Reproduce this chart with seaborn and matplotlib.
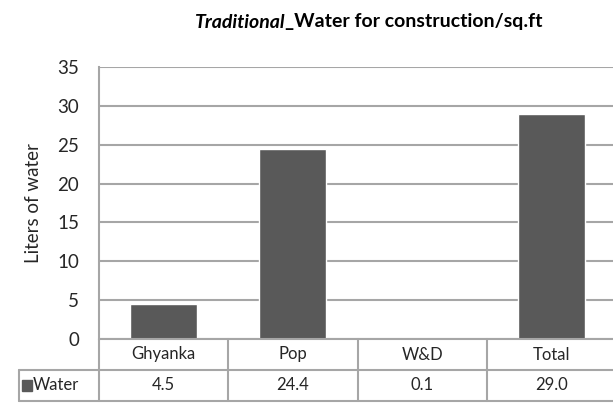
import matplotlib
matplotlib.use("Agg")
import matplotlib.pyplot as plt
import seaborn as sns
import pandas as pd

categories = ["Ghyanka", "Pop", "W&D", "Total"]
water = [4.5, 24.4, 0.1, 29.0]
yticks = [0, 5, 10, 15, 20, 25, 30, 35]
series_name = "Water"

df = pd.DataFrame({"category": categories, "water": water})

sns.set_theme(style="white")
plt.rcParams["font.family"] = ["Lato", "DejaVu Sans"]

bar_color = "#595959"
line_color = "#a6a6a6"
text_color = "#262626"

fig = plt.figure(figsize=(6.13, 4.04), dpi=100)
# plot area (right edge runs just past the figure, like the reference crop)
ax = fig.add_axes([98.5 / 613, 1 - 339 / 404, 518 / 613, 272 / 404])

sns.barplot(data=df, x="category", y="water", color=bar_color, width=0.52,
            saturation=1, ax=ax)

ax.set_xlim(-0.5, 3.5)
ax.set_ylim(0, 35)
ax.set_yticks(yticks)
ax.set_yticklabels([str(t) for t in yticks], fontsize=13.5, color=text_color)
ax.tick_params(axis="y", length=0, pad=14)
ax.set_xticks([])
ax.set_xlabel("")
ax.set_ylabel("Liters of water", fontsize=13.5, color=text_color, labelpad=11)
ax.yaxis.grid(True, color=line_color, linewidth=1.5)
ax.set_axisbelow(True)
for side in ["top", "right", "bottom"]:
    ax.spines[side].set_visible(False)
ax.spines["left"].set_color(line_color)
ax.spines["left"].set_linewidth(1.5)

# data table under the plot
tr = ax.get_xaxis_transform()
row_h = 31 / 272
left_edge = -0.5 - (98.5 - 19.5) / 129.5
kw = dict(color=line_color, linewidth=1.5, clip_on=False, transform=tr)
ax.plot([-0.5, 3.5], [0, 0], **kw)
ax.plot([left_edge, 3.5], [-row_h, -row_h], **kw)
ax.plot([left_edge, 3.5], [-2 * row_h, -2 * row_h], **kw)
ax.plot([left_edge, left_edge], [-row_h, -2 * row_h], **kw)
for i in range(len(categories) + 1):
    ax.plot([i - 0.5, i - 0.5], [0, -2 * row_h], **kw)

for i, (cat, val) in enumerate(zip(categories, water)):
    ax.text(i, -row_h / 2, cat, transform=tr, ha="center", va="center",
            fontsize=12, color=text_color, clip_on=False)
    ax.text(i, -1.5 * row_h, f"{val:.1f}", transform=tr, ha="center",
            va="center", fontsize=12, color=text_color, clip_on=False)

# legend key + series name in the table's first column
ax.add_patch(plt.Rectangle((left_edge + 0.02, -1.5 * row_h - 0.02), 0.077, 0.04,
                           transform=tr, color=bar_color, clip_on=False))
ax.text(left_edge + 0.1, -1.5 * row_h, series_name, transform=tr, ha="left",
        va="center", fontsize=12, color=text_color, clip_on=False)

# title: italic part + bold part, joined at the underscore
fig.text(285 / 613, 1 - 22 / 404, "Traditional", ha="right", va="center",
         fontsize=14, fontweight="bold", fontstyle="italic", color="black")
fig.text(285 / 613, 1 - 22 / 404, "_Water for construction/sq.ft", ha="left",
         va="center", fontsize=14, fontweight="bold", color="black")

fig.savefig("out.png", dpi=100)
